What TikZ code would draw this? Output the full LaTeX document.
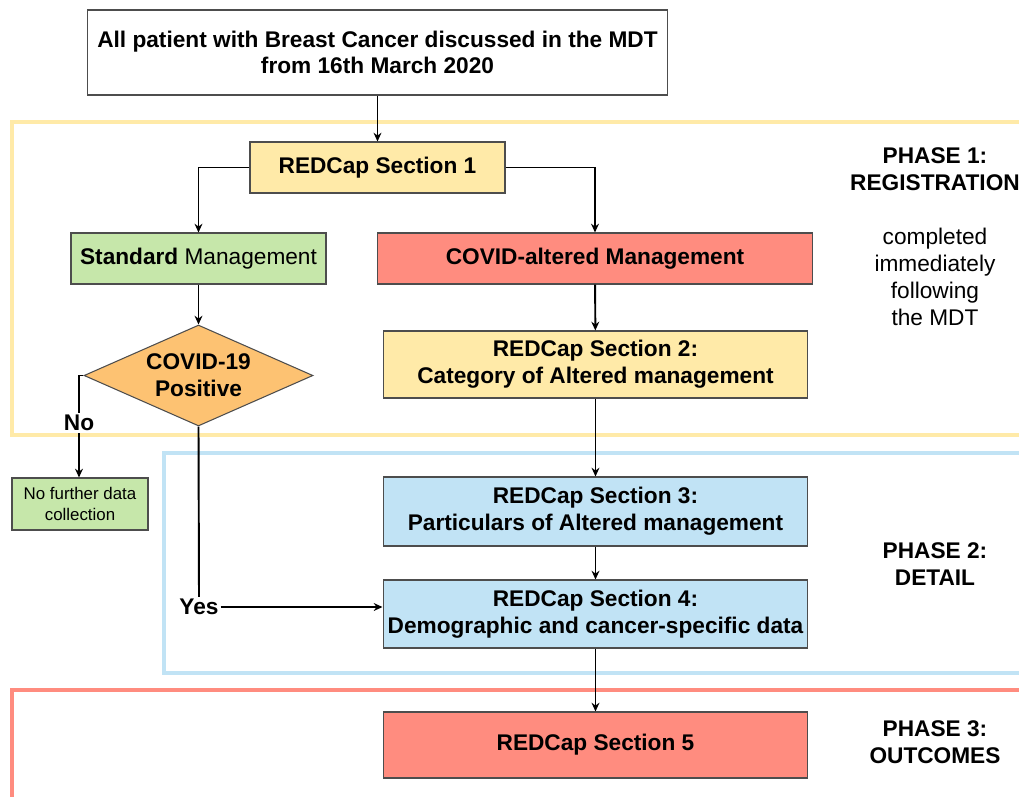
\documentclass[tikz,border=0pt]{standalone}
\usepackage{fontspec}
\setmainfont{Liberation Sans}
\usetikzlibrary{shapes.geometric,arrows.meta}
\definecolor{boxline}{HTML}{4D4D4D}
\definecolor{cyellow}{HTML}{FFEAA8}
\definecolor{cgreen}{HTML}{C6E7AA}
\definecolor{cred}{HTML}{FF8C7F}
\definecolor{corange}{HTML}{FDC272}
\definecolor{cblue}{HTML}{C1E3F5}

\begin{document}
\begin{tikzpicture}[x=0.02cm,y=-0.02cm]

\tikzstyle{box} = [rectangle, draw=boxline, line width=0.6pt, align=center, inner sep=2pt, font=\bfseries\fontsize{12.9}{15.2}\selectfont]
\tikzstyle{e} = [-{Stealth[length=5pt,width=4.5pt]}, line width=1.1pt]
\tikzstyle{frame} = [line width=2.3pt]
\tikzstyle{phase} = [align=center, font=\bfseries\fontsize{12.9}{15.2}\selectfont]

\useasboundingbox (0,0) rectangle (1019,796);

% phase frames, open to the right
\draw[frame, cyellow] (1030,122) -- (12,122) -- (12,435) -- (1030,435);
\draw[frame, cblue] (1030,453) -- (164,453) -- (164,673) -- (1030,673);
\draw[frame, cred] (1030,690) -- (12,690) -- (12,810);

\node[box, fill=white, minimum width=11.62cm, minimum height=1.7cm](T)at(377.5,52.5){All patient with Breast Cancer discussed in the MDT\\from 16th March 2020};
\node[box, fill=cyellow, minimum width=5.1cm, minimum height=1.02cm](S1)at(377.5,167.5){REDCap Section 1};
\node[box, fill=cgreen, minimum width=5.1cm, minimum height=1.02cm, font=\fontsize{12.9}{15.2}\selectfont](SM)at(198.5,258.5){\textbf{Standard} Management};
\node[box, fill=cred, minimum width=8.72cm, minimum height=1.02cm](CM)at(595,258.5){COVID-altered Management};
\node[box, diamond, aspect=2.27, fill=corange, inner sep=0pt, minimum width=4.58cm, minimum height=2.02cm](P)at(198.5,375.5){COVID-19\\Positive};
\node[box, fill=cyellow, minimum width=8.5cm, minimum height=1.34cm](S2)at(595.5,364.5){REDCap Section 2:\\Category of Altered management};
\node[box, fill=cgreen, minimum width=2.72cm, minimum height=1.04cm, font=\fontsize{9.6}{11.6}\selectfont](NF)at(80,504){No further data\\collection};
\node[box, fill=cblue, minimum width=8.5cm, minimum height=1.38cm](S3)at(595.5,511.5){REDCap Section 3:\\Particulars of Altered management};
\node[box, fill=cblue, minimum width=8.5cm, minimum height=1.36cm](S4)at(595.5,614){REDCap Section 4:\\Demographic and cancer-specific data};
\node[box, fill=cred, minimum width=8.5cm, minimum height=1.32cm](S5)at(595.5,745){REDCap Section 5};

\node[phase](PH1)at(935,169){PHASE 1:\\REGISTRATION};
\node[align=center, font=\fontsize{12.9}{15.4}\selectfont](PH1t)at(935,277){completed\\immediately\\following\\the MDT};
\node[phase](PH2)at(935,564){PHASE 2:\\DETAIL};
\node[phase](PH3)at(935,742){PHASE 3:\\OUTCOMES};

\node[font=\bfseries\fontsize{12.9}{15}\selectfont, inner sep=1pt](no)at(79,423){No};
\node[font=\bfseries\fontsize{12.9}{15}\selectfont, inner sep=1pt](yes)at(199,607){Yes};

\draw[e](T) -- (S1);
\draw[e](S1.west) -| (SM.north);
\draw[e](S1.east) -| (CM.north);
\draw[e](SM) -- (P);
\draw[e](CM) -- (S2);
\draw[e](S2) -- (S3);
\draw[e](S3) -- (S4);
\draw[e](S4) -- (S5);
\draw[line width=1.1pt](P.west) -| (no.north);
\draw[e](no.south) -- (NF.north -| no.south);
\draw[line width=1.1pt](P.south) -- (yes.north);
\draw[e](yes.east) -- (yes.east -| S4.west);

\end{tikzpicture}
\end{document}
